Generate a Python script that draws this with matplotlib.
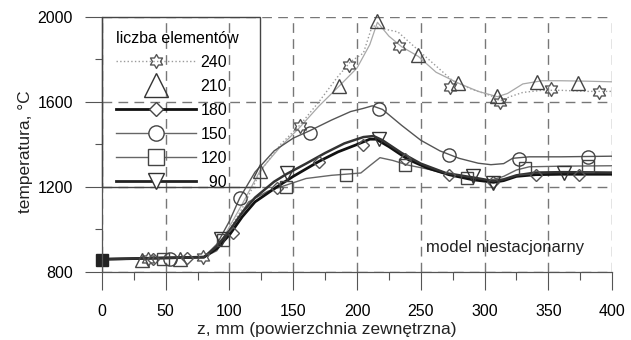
import matplotlib
matplotlib.use('Agg')
import matplotlib.pyplot as plt
import numpy as np
from matplotlib.path import Path
from matplotlib.lines import Line2D
from matplotlib.patches import Rectangle

# smooth model curves
x240 = [0, 80, 95, 110, 125, 140, 155, 170, 185, 195, 205, 212, 220, 232, 245, 260, 275, 290, 305, 312, 320, 330, 345, 360, 380, 400]
y240 = [860, 870, 950, 1100, 1280, 1400, 1490, 1600, 1720, 1790, 1830, 1960, 1945, 1930, 1860, 1780, 1700, 1660, 1630, 1605, 1625, 1645, 1655, 1655, 1650, 1650]
x210 = [0, 80, 95, 110, 124, 140, 155, 170, 186, 200, 210, 216, 225, 235, 248, 262, 279, 295, 310, 318, 330, 345, 360, 380, 400]
y210 = [860, 870, 960, 1120, 1277, 1390, 1480, 1580, 1675, 1760, 1870, 1975, 1910, 1860, 1815, 1740, 1690, 1650, 1625, 1640, 1685, 1700, 1700, 1698, 1695]
x180 = [0, 80, 90, 100, 110, 120, 137, 150, 170, 185, 200, 210, 215, 225, 240, 255, 272, 290, 307, 315, 325, 340, 360, 400]
y180 = [860, 870, 910, 975, 1060, 1130, 1200, 1250, 1320, 1365, 1400, 1425, 1425, 1390, 1330, 1290, 1258, 1235, 1222, 1230, 1250, 1258, 1260, 1260]
x150 = [0, 80, 90, 100, 108, 120, 135, 150, 163, 180, 195, 205, 212, 220, 235, 250, 265, 280, 295, 305, 315, 322, 335, 360, 400]
y150 = [860, 870, 930, 1040, 1148, 1270, 1370, 1430, 1465, 1515, 1555, 1570, 1582, 1565, 1490, 1420, 1370, 1335, 1312, 1305, 1310, 1335, 1342, 1342, 1345]
x120 = [0, 80, 90, 100, 115, 130, 145, 160, 180, 195, 203, 210, 218, 228, 240, 255, 272, 290, 305, 315, 325, 335, 360, 400]
y120 = [860, 870, 900, 990, 1130, 1180, 1210, 1240, 1255, 1262, 1266, 1300, 1338, 1325, 1303, 1285, 1258, 1240, 1232, 1250, 1280, 1295, 1298, 1300]
x90 = [0, 80, 90, 100, 110, 120, 135, 145, 160, 175, 190, 205, 213, 220, 235, 250, 270, 291, 307, 315, 325, 340, 362, 400]
y90 = [860, 870, 920, 995, 1080, 1150, 1225, 1262, 1310, 1360, 1405, 1435, 1440, 1420, 1360, 1310, 1265, 1245, 1228, 1236, 1255, 1268, 1270, 1268]

# marker positions
mx240 = [36, 79, 155, 194, 233, 273, 312, 352, 390]
my240 = [862, 872, 1487, 1774, 1864, 1671, 1600, 1661, 1647]
mx210 = [31, 61, 124, 186, 216, 248, 279, 310, 341, 373]
my210 = [858, 862, 1277, 1675, 1981, 1821, 1690, 1628, 1694, 1690]
mx180 = [40, 67, 103, 137, 170, 205, 238, 272, 307, 340, 374]
my180 = [862, 868, 983, 1195, 1318, 1398, 1330, 1256, 1222, 1256, 1256]
mx150 = [53, 108, 163, 217, 272, 327, 381]
my150 = [862, 1148, 1454, 1567, 1351, 1332, 1341]
mx120 = [48, 95, 144, 191, 238, 286, 332, 381]
my120 = [862, 950, 1200, 1258, 1303, 1242, 1290, 1299]
mx90 = [93, 145, 217, 291, 307, 362]
my90 = [955, 1264, 1425, 1252, 1219, 1268]
start_x = [0]
start_y = [858]

labels = ['240', '210', '180', '150', '120', '\u200790']

# six-pointed star marker
ang = np.pi / 2 + np.arange(12) * np.pi / 6
rad = np.where(np.arange(12) % 2 == 0, 1.0, 0.58)
star_verts = np.column_stack([rad * np.cos(ang), rad * np.sin(ang)])
star = Path(np.vstack([star_verts, star_verts[:1]]), closed=True)

plt.rcParams['font.family'] = ['Liberation Sans', 'DejaVu Sans']

fig = plt.figure(figsize=(6.31, 3.4), dpi=100)
ax = fig.add_axes([0.1616, 0.2, 0.8084, 0.75])

# curves
ax.plot(x240, y240, color='#9a9a9a', lw=1.0, ls=':')
ax.plot(x210, y210, color='#a8a8a8', lw=0.9)
ax.plot(x150, y150, color='#555555', lw=1.0)
ax.plot(x120, y120, color='#666666', lw=1.0)
ax.plot(x180, y180, color='#111111', lw=2.0)
ax.plot(x90, y90, color='#333333', lw=1.8)

mk = dict(ls='none', mfc='none', clip_on=False, mew=1.0)
ax.plot(mx240, my240, marker=star, ms=10, mec='#555555', **mk)
ax.plot(mx210, my210, marker='^', ms=10, mec='#444444', **mk)
ax.plot(mx180, my180, marker='D', ms=6.5, mec='#555555', **mk)
ax.plot(mx150, my150, marker='o', ms=9.5, mec='#444444', **mk)
ax.plot(mx120, my120, marker='s', ms=9, mec='#444444', **mk)
ax.plot(mx90, my90, marker='v', ms=9.5, mec='#333333', **mk)
ax.plot(start_x, start_y, marker='s', ms=8, mfc='#222222', mec='#222222', ls='none', clip_on=False)

ax.set_xlim(0, 400)
ax.set_ylim(800, 2000)
ax.set_xticks(np.arange(0, 401, 50))
ax.set_xticks(np.arange(25, 400, 50), minor=True)
ax.set_yticks([800, 1200, 1600, 2000])
ax.set_yticks([1000, 1400, 1800], minor=True)
ax.tick_params(axis='both', which='major', labelsize=11.5, color='#555555', width=0.8)
ax.tick_params(axis='x', which='major', length=13, pad=10)
ax.tick_params(axis='x', which='minor', length=6, color='#555555', width=0.8)
ax.tick_params(axis='y', which='major', length=12, pad=9)
ax.tick_params(axis='y', which='minor', length=5, color='#555555', width=0.8)
ax.grid(True, which='major', color='#777777', ls=(0, (7, 4.5)), lw=1.0)
for s in ['top', 'right']:
    ax.spines[s].set_visible(False)
for s in ['left', 'bottom']:
    ax.spines[s].set_color('#555555')
    ax.spines[s].set_linewidth(0.9)

ax.set_ylabel('temperatura, \u00b0C', fontsize=12.5, color='#222222')
ax.set_xlabel('z, mm (powierzchnia zewn\u0119trzna)', fontsize=12.5, color='#222222')
ax.xaxis.set_label_coords(0.44, -0.195)
ax.yaxis.set_label_coords(-0.135, 0.47)

ax.text(254, 915, 'model niestacjonarny', fontsize=12, va='center', color='#222222')

# legend box
ax.add_patch(Rectangle((0, 1 / 3), 0.31, 2 / 3, transform=ax.transAxes, fill=False,
                       ec='#444444', lw=1.0, clip_on=False, zorder=3))
handles = [
    Line2D([], [], color='#9a9a9a', ls=':', lw=1.0, marker=star, ms=10, mfc='none', mec='#555555'),
    Line2D([], [], ls='none', marker='^', ms=17, mfc='none', mec='#333333'),
    Line2D([], [], color='#111111', lw=2.0, marker='D', ms=7, mfc='white', mec='#444444'),
    Line2D([], [], color='#666666', lw=1.0, marker='o', ms=11, mfc='white', mec='#444444'),
    Line2D([], [], color='#666666', lw=1.0, marker='s', ms=11, mfc='white', mec='#444444'),
    Line2D([], [], color='#222222', lw=2.0, marker='v', ms=11, mfc='white', mec='#333333'),
]
leg = ax.legend(handles, labels, title='liczba elementów', loc='upper left',
                bbox_to_anchor=(0.002, 0.995), frameon=False, fontsize=11.5,
                title_fontsize=11.5, handlelength=5.0, handletextpad=0.3,
                labelspacing=0.56, borderpad=0.3, alignment='left', numpoints=1)

fig.savefig('out.png', dpi=100)
